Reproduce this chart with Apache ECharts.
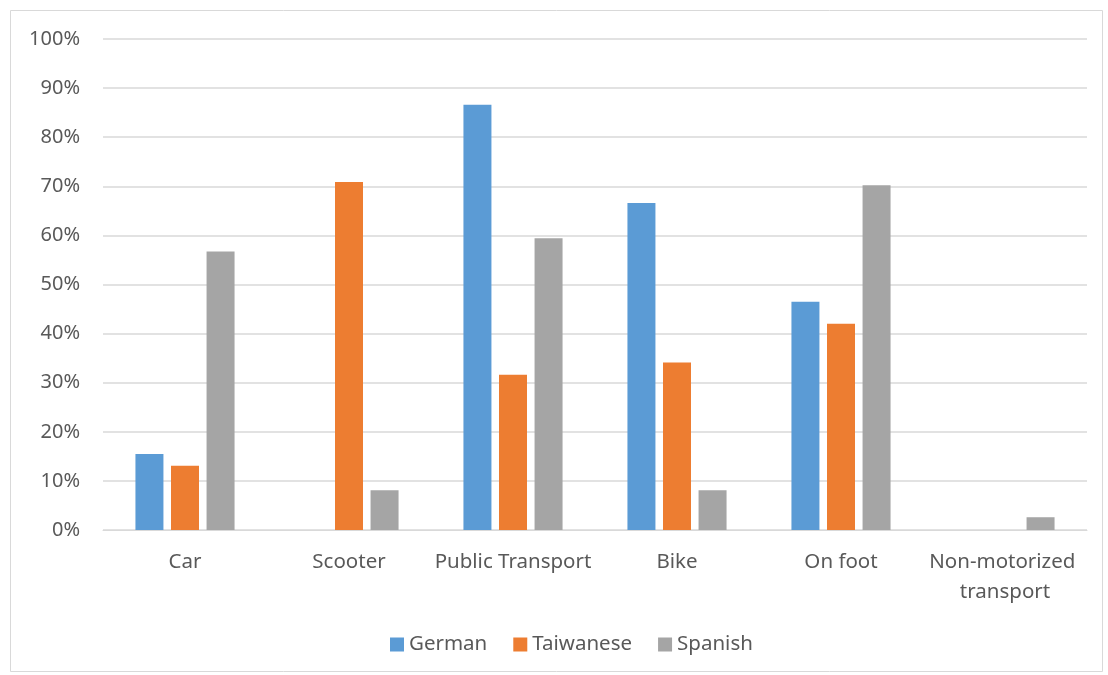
<!DOCTYPE html>
<html>
<head>
<meta charset="utf-8">
<script src="https://cdn.jsdelivr.net/npm/echarts@6/dist/echarts.min.js"></script>
<style>
  html, body { margin: 0; padding: 0; background: #fff; }
  #chart { width: 1108px; height: 675px; }
</style>
</head>
<body>
<div id="chart"></div>
<script>
// Share of respondents using each mode of transport, by nationality
const categories = ['Car', 'Scooter', 'Public Transport', 'Bike', 'On foot', 'Non-motorized transport'];
const german    = [15.5, 0, 86.6, 66.6, 46.5, 0];
const taiwanese = [13.1, 70.9, 31.6, 34.1, 42.0, 0];
const spanish   = [56.7, 8.1, 59.4, 8.1, 70.2, 2.6];
const seriesNames = ['German', 'Taiwanese', 'Spanish'];
const colors = ['#5B9BD5', '#ED7D31', '#A5A5A5'];

const textColor = '#595959';
const fontFamily = '"Noto Sans", "Open Sans", sans-serif';

const chart = echarts.init(document.getElementById('chart'), null, { renderer: 'canvas' });

const makeSeries = (name, data, i) => ({
  name: name,
  type: 'bar',
  data: data,
  barWidth: 28,
  barGap: '27%',
  itemStyle: { color: colors[i] },
  emphasis: { disabled: true }
});

chart.setOption({
  animation: false,
  backgroundColor: '#fff',
  textStyle: { fontFamily: fontFamily, color: textColor },
  graphic: [{
    type: 'rect',
    shape: { x: 10.5, y: 10.5, width: 1092, height: 661 },
    style: { fill: 'none', stroke: '#D9D9D9', lineWidth: 1 },
    silent: true
  }],
  grid: { left: 103, right: 21, top: 39, bottom: 145, containLabel: false },
  legend: {
    data: seriesNames,
    bottom: 15,
    left: 385,
    itemWidth: 14,
    itemHeight: 14,
    itemGap: 26,
    icon: 'rect',
    textStyle: { color: textColor, fontSize: 20.5, fontFamily: fontFamily }
  },
  xAxis: {
    type: 'category',
    data: categories,
    axisLine: { show: true, lineStyle: { color: '#D9D9D9', width: 1 } },
    axisTick: { show: false },
    axisLabel: {
      interval: 0,
      margin: 17,
      color: textColor,
      fontSize: 20.5,
      lineHeight: 30,
      width: 164,
      overflow: 'break',
      fontFamily: fontFamily
    }
  },
  yAxis: {
    type: 'value',
    min: 0,
    max: 100,
    interval: 10,
    axisLine: { show: false },
    axisTick: { show: false },
    splitLine: { lineStyle: { color: '#D9D9D9', width: 1.5 } },
    axisLabel: {
      margin: 23,
      color: textColor,
      fontSize: 20,
      fontFamily: fontFamily,
      formatter: v => v + '%'
    }
  },
  series: [
    makeSeries(seriesNames[0], german, 0),
    makeSeries(seriesNames[1], taiwanese, 1),
    makeSeries(seriesNames[2], spanish, 2)
  ]
});
</script>
</body>
</html>
